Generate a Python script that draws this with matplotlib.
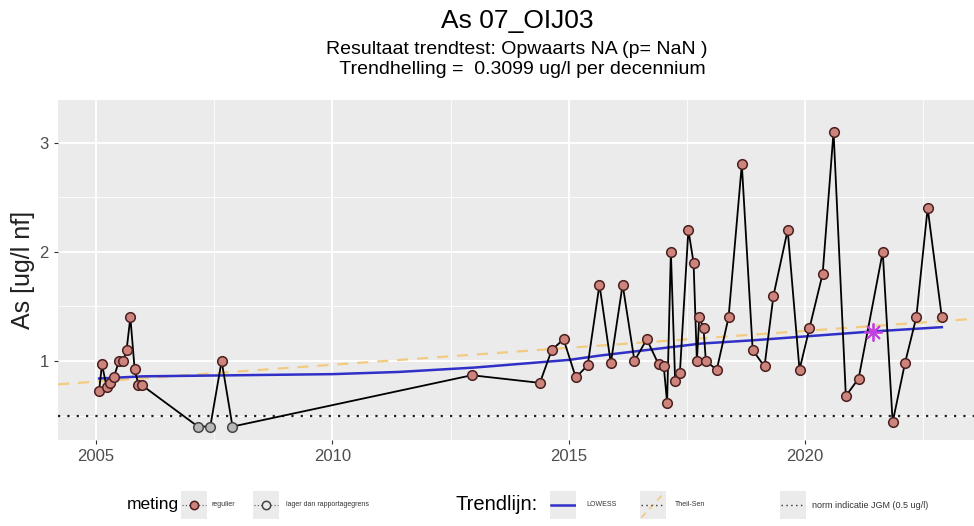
import numpy as np
import matplotlib
matplotlib.use("Agg")
import matplotlib.pyplot as plt
from matplotlib.ticker import FixedLocator

plt.rcParams["font.family"] = ["Liberation Sans", "DejaVu Sans"]

# metingen (decimaal jaar, waarde in ug/l)
jaar = [2005.07, 2005.13, 2005.23, 2005.30, 2005.38, 2005.49, 2005.58, 2005.65,
        2005.73, 2005.82, 2005.90, 2005.97, 2007.16, 2007.42, 2007.66, 2007.89,
        2012.95, 2014.39, 2014.64, 2014.89, 2015.15, 2015.40, 2015.65, 2015.89,
        2016.14, 2016.39, 2016.65, 2016.90, 2017.01, 2017.08, 2017.16, 2017.25,
        2017.35, 2017.53, 2017.64, 2017.71, 2017.76, 2017.85, 2017.90, 2018.13,
        2018.38, 2018.66, 2018.89, 2019.14, 2019.33, 2019.63, 2019.88, 2020.09,
        2020.37, 2020.60, 2020.86, 2021.13, 2021.64, 2021.85, 2022.11, 2022.35,
        2022.59, 2022.89]
waarde = [0.73, 0.97, 0.76, 0.80, 0.85, 1.00, 1.00, 1.10,
          1.40, 0.93, 0.78, 0.78, 0.40, 0.40, 1.00, 0.40,
          0.87, 0.80, 1.10, 1.20, 0.85, 0.96, 1.70, 0.98,
          1.70, 1.00, 1.20, 0.97, 0.95, 0.62, 2.00, 0.82,
          0.89, 2.20, 1.90, 1.00, 1.40, 1.30, 1.00, 0.92,
          1.40, 2.80, 1.10, 0.95, 1.60, 2.20, 0.92, 1.30,
          1.80, 3.10, 0.68, 0.84, 2.00, 0.44, 0.98, 1.40,
          2.40, 1.40]
# True = lager dan rapportagegrens
onder_rg = [False] * 12 + [True, True, False, True] + [False] * 42

# LOWESS trendlijn
lowess_jaar = [2005.07, 2006.0, 2008.0, 2010.0, 2011.4, 2013.0, 2015.0, 2015.66,
               2017.8, 2018.9, 2021.4, 2022.89]
lowess_waarde = [0.84, 0.86, 0.87, 0.88, 0.90, 0.94, 1.01, 1.05,
                 1.16, 1.19, 1.27, 1.31]

# Theil-Sen: helling 0.3099 ug/l per decennium, door (2014, 1.09)
ts_helling = 0.03099
ts_punt = (2014.0, 1.09)

norm = 0.5
ster = (2021.43, 1.27)

grijs = "#4d4d4d"
fig = plt.figure(figsize=(9.74, 5.26), dpi=100)
ax = fig.add_axes([58 / 974, 1 - 440 / 526, 916 / 974, 340 / 526])
ax.set_facecolor("#ebebeb")
for s in ax.spines.values():
    s.set_visible(False)

x0, x1 = 2004.2, 2023.57
ax.set_xlim(x0, x1)
ax.set_ylim(0.277, 3.39)

ax.xaxis.set_major_locator(FixedLocator([2005, 2010, 2015, 2020]))
ax.xaxis.set_minor_locator(FixedLocator([2007.5, 2012.5, 2017.5, 2022.5]))
ax.yaxis.set_major_locator(FixedLocator([1, 2, 3]))
ax.yaxis.set_minor_locator(FixedLocator([0.5, 1.5, 2.5]))
ax.grid(which="major", color="white", lw=1.3)
ax.grid(which="minor", color="white", lw=0.6)
ax.set_axisbelow(True)
ax.tick_params(which="major", length=3, color="#333333", labelcolor=grijs, labelsize=12)
ax.tick_params(which="minor", length=0)

# norm lijn
ax.axhline(norm, color="#222222", lw=1.6, ls=(0, (1, 3.2)), zorder=2)
# Theil-Sen
xs = np.array([x0, x1])
ax.plot(xs, ts_punt[1] + ts_helling * (xs - ts_punt[0]), color="#f2cb80",
        lw=1.6, ls=(0, (5, 4)), zorder=2)
# LOWESS
ax.plot(lowess_jaar, lowess_waarde, color="#3030c8", lw=1.8, zorder=3)

# meetreeks
ax.plot(jaar, waarde, color="black", lw=1.3, zorder=4)
j = np.array(jaar)
w = np.array(waarde)
rg = np.array(onder_rg)
ax.scatter(j[~rg], w[~rg], s=48, facecolor="#cc847c", edgecolor="#4a1f1f", lw=1.1, zorder=5)
ax.scatter(j[rg], w[rg], s=48, facecolor="#b8b8b8", edgecolor="#444444", lw=1.1, zorder=5)
ax.plot(*ster, marker=(8, 2, 0), ms=13, mew=1.3, color="#c23fe0", zorder=6)

ax.set_ylabel("As [ug/l nf]", fontsize=18, color="#222222", labelpad=3)

fig.text(517 / 974, 1 - 21 / 526, "As 07_OIJ03", ha="center", va="center", fontsize=19)
fig.text(517 / 974, 1 - 50 / 526, "Resultaat trendtest: Opwaarts NA (p= NaN )",
         ha="center", va="center", fontsize=14)
fig.text(517 / 974, 1 - 70 / 526, "  Trendhelling =  0.3099 ug/l per decennium",
         ha="center", va="center", fontsize=14)

# legenda onderaan
ly = 1 - 505 / 526
fig.text(127 / 974, ly, "meting", ha="left", va="center", fontsize=12.5)
fig.text(456 / 974, ly, "Trendlijn:", ha="left", va="center", fontsize=14.5)


def sleutel(xpix):
    k = fig.add_axes([xpix / 974, 1 - 519 / 526, 26 / 974, 28 / 526])
    k.set_facecolor("#ebebeb")
    k.set_xlim(0, 1)
    k.set_ylim(0, 1)
    k.set_xticks([])
    k.set_yticks([])
    for s in k.spines.values():
        s.set_visible(False)
    return k


k = sleutel(181)
k.plot([0.05, 0.95], [0.5, 0.5], color="#555555", lw=0.8, ls=(0, (1, 2)))
k.plot(0.5, 0.5, "o", ms=6, mfc="#cc847c", mec="#4a1f1f", mew=1.1)
k = sleutel(253)
k.plot([0.05, 0.95], [0.5, 0.5], color="#555555", lw=0.8, ls=(0, (1, 2)))
k.plot(0.5, 0.5, "o", ms=6, mfc="#ebebeb", mec="#444444", mew=1.1)
k = sleutel(550)
k.plot([0.05, 0.95], [0.5, 0.5], color="#3030c8", lw=1.8)
k = sleutel(640)
k.plot([0.05, 0.95], [0.05, 0.95], color="#f2cb80", lw=1.2, ls=(0, (4, 3)))
k.plot([0.05, 0.95], [0.5, 0.5], color="#333333", lw=1.0, ls=(0, (1, 2.5)))
k = sleutel(780)
k.plot([0.05, 0.95], [0.5, 0.5], color="#333333", lw=1.0, ls=(0, (1, 2.5)))

labels = [(212, "regulier", 5), (286, "lager dan rapportagegrens", 5),
          (586, "LOWESS", 5), (675, "Theil-Sen", 5),
          (812, "norm indicatie JGM (0.5 ug/l)", 6.5)]
for xp, t, fs in labels:
    fig.text(xp / 974, ly, t, ha="left", va="center", fontsize=fs, color="#333333")

fig.savefig("out.png", dpi=100)
